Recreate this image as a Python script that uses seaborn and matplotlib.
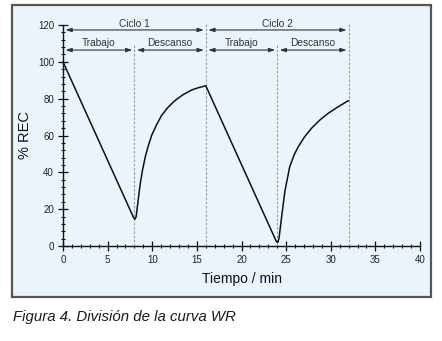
import matplotlib
matplotlib.use("Agg")
import matplotlib.pyplot as plt
import matplotlib.patches as patches
from matplotlib.ticker import MultipleLocator
import seaborn as sns
import pandas as pd

# ---- data ----
tiempo = [0, 7.9, 8.05, 8.2, 8.4, 8.63, 8.9, 9.19, 9.5, 9.93, 10.5, 11.06, 11.8,
          12.55, 13.4, 14.4, 15.2, 16,
          23.9, 24.05, 24.2, 24.5, 24.87, 25.4, 25.9, 26.37, 27.1, 27.86, 28.8,
          29.7, 30.8, 32]
rec = [100, 15.5, 14.5, 16, 24, 33, 41, 47.8, 53.5, 60, 66, 71, 75.5,
       79, 82, 84.7, 86, 87,
       2.5, 1.8, 4, 16, 30, 43, 49.5, 54, 59.5, 64, 68.5,
       72, 75.5, 79]
fases = [0, 8, 16, 24, 32]
ciclos = ["Ciclo 1", "Ciclo 2"]
subfases = ["Trabajo", "Descanso", "Trabajo", "Descanso"]

sns.set_theme(style="white")
plt.rcParams['font.family'] = ['Liberation Sans', 'DejaVu Sans']

fig = plt.figure(figsize=(4.42, 3.41), dpi=100)
fig.patch.set_facecolor("white")

panel = patches.Rectangle((12/442, (341-297)/341), (431-12)/442, (297-5)/341,
                          transform=fig.transFigure, facecolor="#e9f4fb",
                          edgecolor="#555555", linewidth=1.6, zorder=-10)
fig.patches.append(panel)

ax = fig.add_axes([63/442, (341-246)/341, (420-63)/442, (246-25)/341])
ax.set_facecolor("none")
ax.set_zorder(5)

df = pd.DataFrame({"t": tiempo, "rec": rec})
sns.lineplot(data=df, x="t", y="rec", sort=False, estimator=None, color="#111111",
             linewidth=1.1, ax=ax, clip_on=False)

ax.set_xlim(0, 40)
ax.set_ylim(0, 120)
for s in ["top", "right"]:
    ax.spines[s].set_visible(False)
for s in ["left", "bottom"]:
    ax.spines[s].set_color("#111111")
    ax.spines[s].set_linewidth(1.0)

ax.xaxis.set_major_locator(MultipleLocator(5))
ax.xaxis.set_minor_locator(MultipleLocator(1))
ax.yaxis.set_major_locator(MultipleLocator(20))
ax.yaxis.set_minor_locator(MultipleLocator(4))
ax.tick_params(which="major", direction="inout", length=7, width=0.9,
               color="#111111", labelsize=7, labelcolor="#222222",
               left=True, bottom=True)
ax.tick_params(which="minor", direction="inout", length=3.5, width=0.8,
               color="#111111", left=True, bottom=True)
ax.tick_params(axis="y", pad=3)
ax.tick_params(axis="x", pad=3)

ax.set_xlabel("Tiempo / min", fontsize=10, color="#111111", labelpad=5)
ax.set_ylabel("% REC", fontsize=10.5, color="#111111", labelpad=4)

# dashed phase separators
dash_col = "#9a9a9a"
for i, f in enumerate(fases[1:]):
    top = 120.5 if i % 2 == 1 else 109
    ax.plot([f, f], [0, top], color=dash_col, linestyle=(0, (2.2, 1.6)),
            linewidth=0.8, clip_on=False, zorder=1)

arrow_kw = dict(arrowstyle="<|-|>,head_length=0.3,head_width=0.1",
                color="#333333", lw=0.8, shrinkA=0.5, shrinkB=0.5)
# ciclo arrows
for i, name in enumerate(ciclos):
    a, b = fases[2*i], fases[2*i+2]
    ax.annotate("", xy=(b - 0.15, 117.3), xytext=(a + 0.2, 117.3),
                arrowprops=arrow_kw, annotation_clip=False)
    ax.text((a + b) / 2, 120.6, name, ha="center", va="center",
            fontsize=7.3, color="#333333", clip_on=False)
# trabajo/descanso arrows
for i, name in enumerate(subfases):
    a, b = fases[i], fases[i+1]
    ax.annotate("", xy=(b - 0.15, 106.4), xytext=(a + 0.2, 106.4),
                arrowprops=arrow_kw, annotation_clip=False)
    ax.text((a + b) / 2, 110.3, name, ha="center", va="center",
            fontsize=7.3, color="#333333", clip_on=False)

fig.text(13/442, 1 - 317/341, "Figura 4. División de la curva WR",
         fontsize=10.8, style="italic", color="#1a1a1a", ha="left", va="center")

fig.savefig("out.png", dpi=100)
